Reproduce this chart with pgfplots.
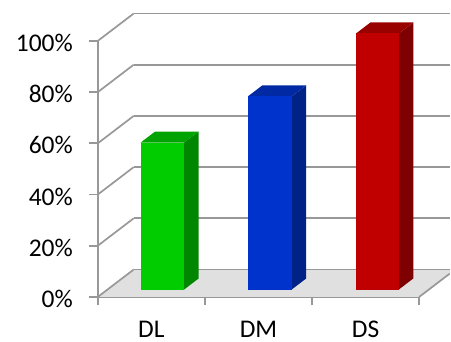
\documentclass[border=0pt]{standalone}
\usepackage{pgfplots}
\pgfplotsset{compat=1.18}
\usepackage{fontspec}
\setmainfont{Carlito}
\definecolor{gridgray}{HTML}{989898}
\definecolor{floorgray}{HTML}{E0E0E0}
\definecolor{HTMLgreenF}{HTML}{00CC00}
\definecolor{HTMLgreenS}{HTML}{008600}
\definecolor{HTMLgreenT}{HTML}{00A300}
\definecolor{HTMLblueF}{HTML}{0033CC}
\definecolor{HTMLblueS}{HTML}{002286}
\definecolor{HTMLblueT}{HTML}{0029A3}
\definecolor{HTMLredF}{HTML}{C00000}
\definecolor{HTMLredS}{HTML}{7E0000}
\definecolor{HTMLredT}{HTML}{990000}
\begin{document}
\begin{tikzpicture}
\begin{axis}[
  x=107.33pt, y=2.565pt,
  xmin=0, xmax=3, ymin=0, ymax=100,
  clip=false,
  axis lines=left,
  axis line style={-, draw=gridgray, line width=1.9pt},
  tick style={draw=gridgray, line width=1.7pt},
  tick align=outside,
  major tick length=8.5pt,
  xtick={0,1,2,3},
  x tick label as interval,
  xticklabels={DL,DM,DS},
  ytick={0,20,40,60,80,100},
  yticklabel={\pgfmathprintnumber{\tick}\%},
  /pgf/number format/assume math mode=true,
  tick label style={font=\fontsize{25.5}{30}\selectfont, text=black},
  xticklabel style={text height=16pt, text depth=0pt, inner ysep=0pt, yshift=-16.3pt},
  yticklabel style={xshift=-13pt, yshift=-2pt},
]
% picture extent
\addplot[draw=none, mark=none, forget plot] coordinates {(-0.913,-17.35) (3.289,115.98)};
% floor
\addplot[fill=floorgray, draw=none, mark=none] coordinates {(0,0) (3,0) (3.289,9.23) (3.289,10.7) (0.335,10.7)} -- cycle;
% back wall lines
\addplot[gridgray, line width=1.7pt, mark=none] coordinates {(0.335,10.7) (3.289,10.7)};
\addplot[gridgray, line width=1.7pt, mark=none] coordinates {(3,0) (3.285,9.1)};
\addplot[gridgray, line width=1.7pt, mark=none] coordinates {(0.335,30.7) (3.289,30.7)};
\addplot[gridgray, line width=1.7pt, mark=none] coordinates {(0.335,50.7) (3.289,50.7)};
\addplot[gridgray, line width=1.7pt, mark=none] coordinates {(0.335,70.7) (3.289,70.7)};
\addplot[gridgray, line width=1.7pt, mark=none] coordinates {(0.335,90.7) (3.289,90.7)};
\addplot[gridgray, line width=1.7pt, mark=none] coordinates {(0.335,110.7) (3.289,110.7)};
% side wall lines
\addplot[gridgray, line width=1.7pt, mark=none] coordinates {(0,0) (0.335,10.7)};
\addplot[gridgray, line width=1.7pt, mark=none] coordinates {(0,20) (0.335,30.7)};
\addplot[gridgray, line width=1.7pt, mark=none] coordinates {(0,40) (0.335,50.7)};
\addplot[gridgray, line width=1.7pt, mark=none] coordinates {(0,60) (0.335,70.7)};
\addplot[gridgray, line width=1.7pt, mark=none] coordinates {(0,80) (0.335,90.7)};
\addplot[gridgray, line width=1.7pt, mark=none] coordinates {(0,100) (0.335,110.7)};
% DL 57.4
\addplot[fill=HTMLgreenS, draw=none, mark=none] coordinates {(0.806,2.9) (0.941,7.2) (0.941,64.6) (0.806,60.3)} -- cycle;
\addplot[fill=HTMLgreenT, draw=none, mark=none] coordinates {(0.40,60.3) (0.806,60.3) (0.941,64.6) (0.535,64.6)} -- cycle;
\addplot[fill=HTMLgreenF, draw=none, mark=none] coordinates {(0.40,2.9) (0.806,2.9) (0.806,60.3) (0.40,60.3)} -- cycle;
% DM 75.4
\addplot[fill=HTMLblueS, draw=none, mark=none] coordinates {(1.81,2.9) (1.945,7.2) (1.945,82.6) (1.81,78.3)} -- cycle;
\addplot[fill=HTMLblueT, draw=none, mark=none] coordinates {(1.40,78.3) (1.81,78.3) (1.945,82.6) (1.535,82.6)} -- cycle;
\addplot[fill=HTMLblueF, draw=none, mark=none] coordinates {(1.40,2.9) (1.81,2.9) (1.81,78.3) (1.40,78.3)} -- cycle;
% DS 100
\addplot[fill=HTMLredS, draw=none, mark=none] coordinates {(2.81,2.9) (2.945,7.2) (2.945,107.2) (2.81,102.9)} -- cycle;
\addplot[fill=HTMLredT, draw=none, mark=none] coordinates {(2.41,102.9) (2.81,102.9) (2.945,107.2) (2.545,107.2)} -- cycle;
\addplot[fill=HTMLredF, draw=none, mark=none] coordinates {(2.41,2.9) (2.81,2.9) (2.81,102.9) (2.41,102.9)} -- cycle;
\end{axis}
\end{tikzpicture}
\end{document}
